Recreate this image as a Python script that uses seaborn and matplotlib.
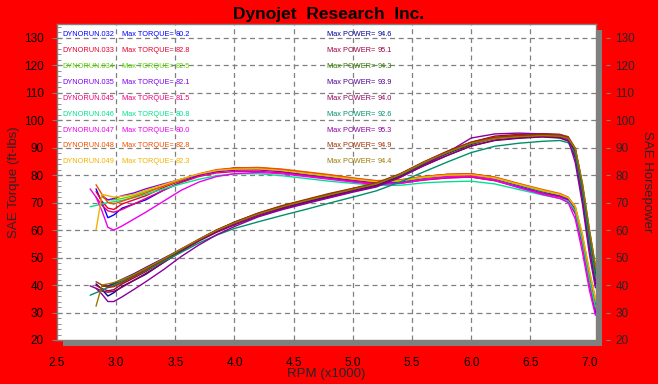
import numpy as np
import pandas as pd
import matplotlib
matplotlib.use('Agg')
import matplotlib.pyplot as plt
from matplotlib.patches import Rectangle
from matplotlib.ticker import MultipleLocator
import seaborn as sns

nan = np.nan

# ---- data ----
rpm = [2.78, 2.83, 2.88, 2.93, 2.98, 3.05, 3.15, 3.25, 3.40, 3.55, 3.70, 3.85, 4.00, 4.20, 4.40, 4.60,
       4.80, 5.00, 5.20, 5.40, 5.60, 5.80, 6.00, 6.20, 6.40, 6.60, 6.75, 6.82, 6.88, 6.94, 7.00, 7.05]

runs = ['DYNORUN.032', 'DYNORUN.033', 'DYNORUN.034', 'DYNORUN.035', 'DYNORUN.045',
        'DYNORUN.046', 'DYNORUN.047', 'DYNORUN.048', 'DYNORUN.049']
max_torque = [80.2, 82.8, 82.5, 82.1, 81.5, 80.8, 80.0, 82.8, 82.3]
max_power = [94.6, 95.1, 94.3, 93.9, 94.0, 92.6, 95.3, 94.9, 94.4]

torque_032 = [nan, 75, 70, 64.5, 65.5, 68, 69.5, 71, 74.5, 77.5, 80, 81.5, 82.6, 82.5, 81.3, 80.3,
              79.3, 78.2, 77.3, 77.6, 78.8, 79.6, 79.8, 78.6, 76.3, 74, 72.5, 71, 66, 55, 41, 30]
torque_033 = [nan, 74, 70.5, 68, 67.5, 69.5, 71, 72.5, 75.5, 78, 80.3, 81.8, 82.5, 82.7, 82, 81,
              80, 78.8, 77.8, 78.2, 79.5, 80.3, 80.5, 79.2, 76.8, 74.5, 73, 71.5, 67.5, 57, 43, 33]
torque_034 = [nan, nan, 72, 71, 71, 71.5, 72.5, 74, 76, 78.3, 80.2, 81.6, 82.2, 82.3, 81.6, 80.5,
              79.5, 78.5, 77.5, 77.8, 79, 79.8, 80, 78.8, 76.5, 74.2, 72.8, 71.8, 68.5, 58, 44, 34]
torque_035 = [nan, nan, 72.5, 71, 71.5, 72.5, 73.5, 75, 76.8, 78.5, 80, 81.2, 81.8, 81.9, 81.2, 80,
              79, 78, 77, 77.2, 78.3, 79, 79.3, 78, 75.8, 73.5, 72.3, 71, 67, 56, 42, 32]
torque_045 = [nan, 72, 69, 67, 66.5, 67.5, 69.5, 71.5, 74.5, 77.3, 79.5, 80.8, 81.3, 81.4, 80.8, 79.8,
              78.8, 77.8, 76.8, 77, 78.2, 79, 79.3, 78, 75.5, 73.3, 72, 70.5, 66, 54, 40, 31]
torque_046 = [68.5, 69, 69.5, 70, 70.3, 70.8, 71.8, 73, 75, 76.8, 78.5, 79.8, 80.5, 80.5, 79.8, 78.8,
              77.8, 77, 76.3, 76.3, 77.2, 77.6, 77.8, 76.8, 74.8, 72.8, 71.5, 70.5, 67, 56, 42, 32]
torque_047 = [75, 72, 67, 61, 60, 61.5, 64, 66.5, 70.5, 74.5, 77.5, 79.5, 80.5, 81, 80.5, 79.5,
              78.5, 77.5, 76.5, 77, 78.5, 79.5, 79.8, 78.3, 75.5, 73, 71.5, 70, 64, 52, 38, 29]
torque_048 = [nan, 76.5, 73, 70, 69.5, 70.5, 72, 73.5, 76, 78.5, 80.5, 82, 82.6, 82.8, 82.2, 81.2,
              80.2, 79, 78, 78.3, 79.5, 80.3, 80.5, 79.3, 77, 74.8, 73.3, 72, 68.5, 58, 45, 35]
torque_049 = [nan, 60, 73, 72.5, 72, 72.3, 73, 74.5, 76.5, 78.6, 80.4, 81.7, 82.2, 82.3, 81.7, 80.7,
              79.7, 78.6, 77.6, 78, 79.3, 80, 80.2, 79, 76.7, 74.5, 73, 71.8, 68.5, 58.5, 45, 35]

power_032 = [nan, 40.4, 38.4, 36.0, 37.2, 39.5, 41.7, 43.9, 48.2, 52.4, 56.4, 59.7, 62.9, 66.0, 68.1, 70.3,
             72.5, 74.4, 76.5, 79.8, 84.0, 87.9, 91.2, 93.5, 94.3, 94.6, 94.4, 93.2, 86.5, 72.7, 54.6, 40.3]
power_033 = [nan, 39.9, 38.7, 37.9, 38.3, 40.4, 42.6, 44.9, 48.9, 52.7, 56.6, 60.0, 62.8, 66.1, 68.7, 70.9,
             73.1, 75.0, 77.0, 80.4, 84.8, 88.7, 92.0, 94.2, 94.8, 95.1, 94.8, 93.6, 88.4, 75.3, 57.3, 44.3]
power_034 = [nan, nan, 39.5, 39.6, 40.3, 41.5, 43.5, 45.8, 49.2, 52.9, 56.5, 59.8, 62.6, 65.8, 68.4, 70.5,
             72.7, 74.7, 76.7, 80.0, 84.2, 88.1, 91.4, 93.5, 94.0, 94.3, 94.0, 93.2, 89.7, 76.6, 58.6, 45.6]
power_035 = [nan, nan, 39.8, 39.6, 40.6, 42.1, 44.1, 46.4, 49.7, 53.1, 56.4, 59.5, 62.3, 65.5, 68.0, 70.1,
             72.2, 74.3, 76.2, 79.4, 83.5, 87.2, 90.6, 92.6, 93.4, 93.9, 93.5, 92.4, 87.8, 74.0, 56.0, 43.0]
power_045 = [nan, 38.8, 37.8, 37.4, 37.7, 39.2, 41.7, 44.2, 48.2, 52.2, 56.0, 59.2, 61.9, 65.1, 67.7, 69.9,
             72.0, 74.1, 76.0, 79.2, 83.4, 87.2, 90.6, 92.8, 93.6, 94.0, 93.7, 92.5, 86.5, 71.4, 53.3, 41.6]
power_046 = [36.3, 37.2, 38.1, 39.1, 39.9, 41.1, 43.1, 45.2, 48.6, 51.9, 55.3, 58.2, 60.6, 63.0, 65.3, 67.5,
             69.8, 72.0, 74.3, 77.5, 81.2, 84.8, 88.2, 90.5, 91.6, 92.3, 92.6, 91.8, 87.8, 74.0, 56.0, 43.0]
power_047 = [39.7, 38.8, 36.7, 34.0, 34.0, 35.7, 38.4, 41.2, 45.6, 50.4, 54.6, 58.3, 61.3, 64.8, 67.4, 69.6,
             71.7, 73.8, 75.7, 79.2, 83.7, 88.3, 93.5, 95.0, 95.3, 95.0, 94.5, 93.0, 84.5, 69.5, 51.0, 39.0]
power_048 = [nan, 41.2, 40.0, 39.1, 39.4, 40.9, 43.2, 45.5, 49.2, 53.1, 56.7, 60.1, 62.9, 66.2, 68.9, 71.1,
             73.3, 75.2, 77.2, 80.5, 84.8, 88.7, 92.0, 93.8, 94.5, 94.9, 94.8, 94.0, 89.8, 76.6, 60.0, 47.0]
power_049 = [nan, 32.3, 40.0, 40.4, 40.9, 42.0, 43.8, 46.1, 49.5, 53.1, 56.6, 59.9, 62.6, 65.8, 68.4, 70.7,
             72.8, 74.8, 76.8, 80.2, 84.6, 88.3, 91.6, 93.3, 94.0, 94.4, 94.2, 93.4, 89.7, 77.3, 60.0, 47.0]

torque_runs = [torque_032, torque_033, torque_034, torque_035, torque_045,
               torque_046, torque_047, torque_048, torque_049]
power_runs = [power_032, power_033, power_034, power_035, power_045,
              power_046, power_047, power_048, power_049]

torque_colors = ['#0000FF', '#E6002E', '#5CD600', '#7A00F0', '#F0007A',
                 '#00E38E', '#EE00EE', '#F05000', '#F0B400']
power_colors = ['#000090', '#A0003C', '#357A00', '#4A0090', '#92005E',
                '#009068', '#8A00A0', '#A03000', '#9A7800']

# long tables for seaborn
rows = []
for name, tq, pw in zip(runs, torque_runs, power_runs):
    for r, t, p in zip(rpm, tq, pw):
        rows.append((name, r, t, p))
df = pd.DataFrame(rows, columns=['run', 'rpm', 'torque', 'power'])

sns.set_style('white')
plt.rcParams['font.family'] = 'sans-serif'
plt.rcParams['font.sans-serif'] = ['Liberation Sans', 'DejaVu Sans']
FONT = ['Liberation Sans', 'DejaVu Sans']

W, H = 658, 384
fig = plt.figure(figsize=(W / 100, H / 100), dpi=100, facecolor='#FF0000')

def fx(px):
    return px / W

def fy(py):
    return 1 - py / H

# drop shadow behind plot area
fig.patches.append(Rectangle((fx(63), fy(346)), fx(602) - fx(63), fy(30) - fy(346),
                             transform=fig.transFigure, facecolor='#808080',
                             edgecolor='none', zorder=-1))

ax = fig.add_axes([fx(57), fy(340), fx(596) - fx(57), fy(24) - fy(340)])
ax.set_facecolor('white')

for v in np.arange(3.0, 6.6, 0.5):
    ax.axvline(v, color='#808080', lw=0.9, ls=(0, (4, 3)), zorder=1)
for v in range(30, 131, 10):
    ax.axhline(v, color='#808080', lw=0.9, ls=(0, (4, 3)), zorder=1)

tq = df.dropna(subset=['torque'])
pw = df.dropna(subset=['power'])
sns.lineplot(data=tq, x='rpm', y='torque', hue='run', palette=torque_colors,
             estimator=None, sort=False, legend=False, lw=1.0, ax=ax, zorder=3)
sns.lineplot(data=pw, x='rpm', y='power', hue='run', palette=power_colors,
             estimator=None, sort=False, legend=False, lw=1.0, ax=ax, zorder=3)

ax.set_xlim(2.5, 7.055)
ax.set_ylim(20, 135)
ax.set_xlabel('')
ax.set_ylabel('')
ax.set_xticks(np.arange(2.5, 7.01, 0.5))
ax.set_xticklabels([f'{v:.1f}' for v in np.arange(2.5, 7.01, 0.5)], family=FONT)
ax.set_yticks(range(20, 131, 10))
ax.set_yticklabels([str(v) for v in range(20, 131, 10)], family=FONT)
ax.xaxis.set_minor_locator(MultipleLocator(0.1))
ax.yaxis.set_minor_locator(MultipleLocator(2))
ax.tick_params(axis='x', which='major', direction='in', length=4, color='#808080',
               labelsize=8.5, pad=12, labelcolor='black')
ax.tick_params(axis='x', which='minor', direction='in', length=3, color='#808080')
ax.tick_params(axis='y', which='major', direction='inout', length=7, color='#808080',
               labelsize=8.5, pad=6, labelcolor='black', right=True)
ax.tick_params(axis='y', which='minor', direction='in', length=3, color='#808080', right=True)
for s in ax.spines.values():
    s.set_color('#808080')
    s.set_linewidth(1)

ax2 = ax.twinx()
ax2.set_ylim(20, 135)
ax2.set_yticks(range(20, 131, 10))
ax2.set_yticklabels([str(v) for v in range(20, 131, 10)], family=FONT)
ax2.spines['right'].set_position(('outward', 7))
for s in ax2.spines.values():
    s.set_visible(False)
ax2.tick_params(axis='y', direction='out', length=3, color='#808080', labelsize=8.5, pad=4)

# run legend written into the plot
LS = 5.3
for i, name in enumerate(runs):
    y = fy(34.7 + i * 15.9)
    fig.text(fx(62), y, name, color=torque_colors[i], fontsize=LS, va='center', family=FONT)
    fig.text(fx(122), y, 'Max TORQUE=', color=torque_colors[i], fontsize=LS, va='center', family=FONT)
    fig.text(fx(176), y, f'{max_torque[i]:.1f}', color=torque_colors[i], fontsize=LS, va='center', family=FONT)
    fig.text(fx(327), y, 'Max POWER=', color=power_colors[i], fontsize=LS, va='center', family=FONT)
    fig.text(fx(378), y, f'{max_power[i]:.1f}', color=power_colors[i], fontsize=LS, va='center', family=FONT)

fig.text(0.5, fy(15), 'Dynojet  Research  Inc.', ha='center', va='center',
         fontsize=12.5, fontweight='bold', color='black', family=FONT)
fig.text(fx(326), fy(374), 'RPM (x1000)', ha='center', va='center', fontsize=9.5, family=FONT)
fig.text(fx(14), fy(182), 'SAE Torque (ft-lbs)', ha='center', va='center',
         rotation=90, fontsize=9.5, family=FONT)
fig.text(fx(647), fy(182), 'SAE Horsepower', ha='center', va='center',
         rotation=270, fontsize=9.5, family=FONT)

fig.savefig('out.png', dpi=100, facecolor=fig.get_facecolor())
